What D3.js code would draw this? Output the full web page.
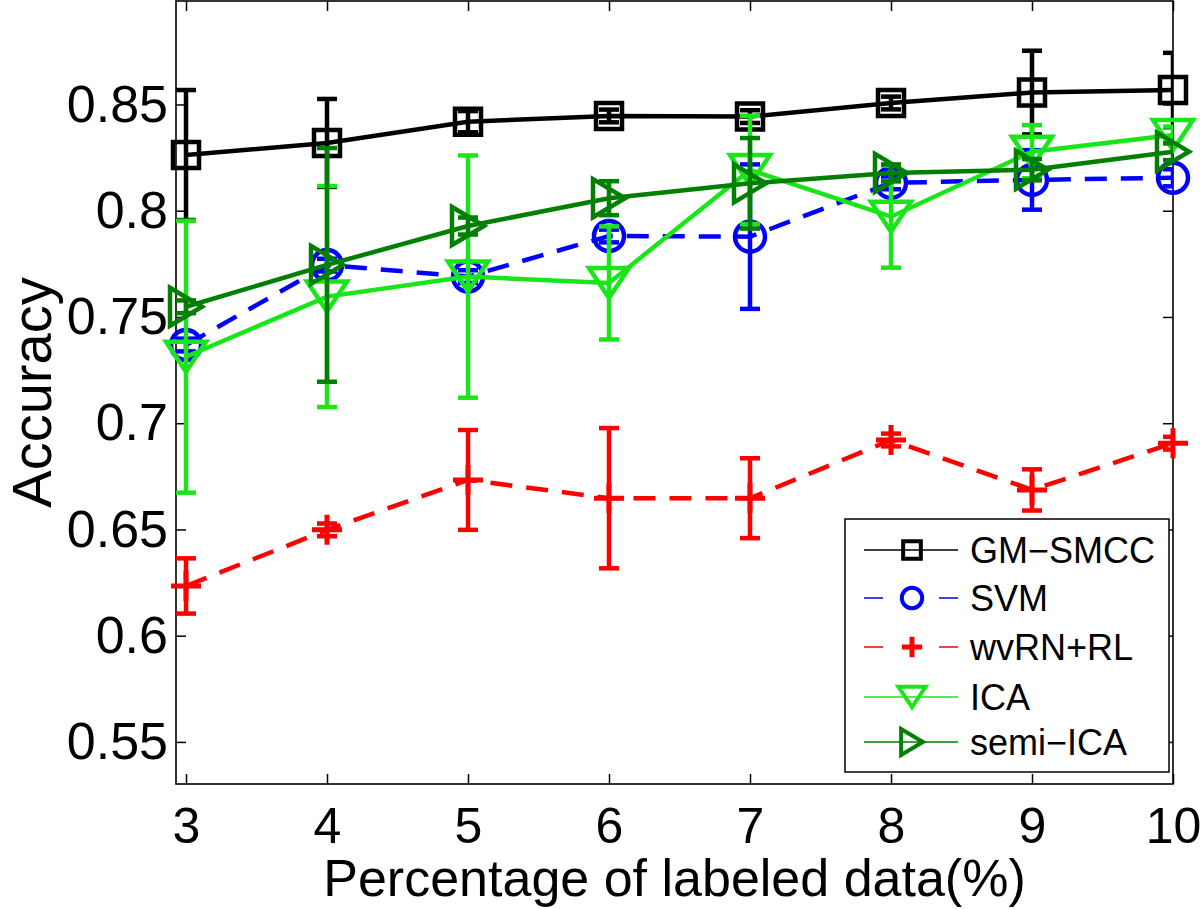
<!DOCTYPE html>
<html>
<head>
<meta charset="utf-8">
<script src="https://cdn.jsdelivr.net/npm/d3@7"></script>
<style>
  html, body { margin: 0; padding: 0; background: #fff; }
  svg { display: block; font-family: "Liberation Sans", Arial, Helvetica, sans-serif; }
</style>
</head>
<body>
<svg id="chart" width="1200" height="909"></svg>
<script>
// ---- data ----
const xValues = [3, 4, 5, 6, 7, 8, 9, 10];
const xTicks = [3, 4, 5, 6, 7, 8, 9, 10];
const yTicks = [0.55, 0.6, 0.65, 0.7, 0.75, 0.8, 0.85];
const seriesNames = ["GM\u2212SMCC", "SVM", "wvRN+RL", "ICA", "semi\u2212ICA"];

const gmMean   = [0.8262, 0.8319, 0.8419, 0.8446, 0.8443, 0.8507, 0.8556, 0.8568];
const gmErr    = [0.0306, 0.0207, 0.0050, 0.0030, 0.0030, 0.0030, 0.0197, 0.0175];
const svmMean  = [0.7368, 0.7744, 0.7690, 0.7881, 0.7878, 0.8131, 0.8145, 0.8155];
const svmErr   = [0.0030, 0.0030, 0.0030, 0.0030, 0.0340, 0.0030, 0.0140, 0.0040];
const wvrnMean = [0.6234, 0.6498, 0.6733, 0.6647, 0.6647, 0.6921, 0.6686, 0.6906];
const wvrnErr  = [0.0130, 0.0030, 0.0235, 0.0330, 0.0188, 0.0030, 0.0097, 0.0030];
const icaMean  = [0.7313, 0.7596, 0.7690, 0.7660, 0.8192, 0.7972, 0.8278, 0.8356];
const icaErr   = [0.0640, 0.0520, 0.0570, 0.0266, 0.0255, 0.0240, 0.0125, 0.0040];
const semiMean = [0.7548, 0.7745, 0.7928, 0.8059, 0.8129, 0.8178, 0.8193, 0.8278];
const semiErr  = [0.0030, 0.0550, 0.0040, 0.0080, 0.0213, 0.0040, 0.0050, 0.0040];

// ---- styles ----
const styles = [
  { color: "#000000", dash: null,    marker: "square" },
  { color: "#0000ff", dash: "22,14", marker: "circle" },
  { color: "#ff0000", dash: "22,14", marker: "plus" },
  { color: "#19e619", dash: null,    marker: "down" },
  { color: "#007f00", dash: null,    marker: "right" }
];
const means = [gmMean, svmMean, wvrnMean, icaMean, semiMean];
const errs  = [gmErr, svmErr, wvrnErr, icaErr, semiErr];

const svg = d3.select("#chart");
const L = 176, R = 1173, T = 1, B = 784;
const x = d3.scaleLinear().domain([2.929, 10]).range([L, R]);
const y = d3.scaleLinear().domain([0.5302, 0.8987]).range([B, T]);

svg.append("defs").append("clipPath").attr("id", "clip")
  .append("rect").attr("x", L).attr("y", T).attr("width", R - L).attr("height", B - T);

// axes
const gx = svg.append("g").attr("transform", `translate(0,${B})`)
  .call(d3.axisBottom(x).tickValues(xTicks).tickSizeInner(-10).tickSizeOuter(0).tickPadding(23).tickFormat(d3.format("d")));
const gxt = svg.append("g").attr("transform", `translate(0,${T})`)
  .call(d3.axisTop(x).tickValues(xTicks).tickSizeInner(-10).tickSizeOuter(0).tickFormat(""));
const gy = svg.append("g").attr("transform", `translate(${L},0)`)
  .call(d3.axisLeft(y).tickValues(yTicks).tickSizeInner(-10).tickSizeOuter(0).tickPadding(8).tickFormat(d => d3.format(".2~f")(d)));
const gyr = svg.append("g").attr("transform", `translate(${R},0)`)
  .call(d3.axisRight(y).tickValues(yTicks).tickSizeInner(-10).tickSizeOuter(0).tickFormat(""));
[gx, gxt, gy, gyr].forEach(g => {
  g.select(".domain").remove();
  g.selectAll(".tick line").attr("stroke", "#000").attr("stroke-width", 1.5);
  g.selectAll(".tick text").attr("fill", "#000")
    .attr("font-family", "Liberation Sans, Arial, Helvetica, sans-serif");
});
gx.selectAll(".tick text").attr("font-size", 50);
gy.selectAll(".tick text").attr("font-size", 52);

svg.append("rect").attr("x", L).attr("y", T).attr("width", R - L).attr("height", B - T)
  .attr("fill", "none").attr("stroke", "#000").attr("stroke-width", 1.6);

// axis labels
svg.append("text").attr("x", (L + R) / 2).attr("y", 896).attr("text-anchor", "middle")
  .attr("font-size", 52).attr("fill", "#000").text("Percentage of labeled data(%)");
svg.append("text").attr("transform", `translate(51,${(T + B) / 2}) rotate(-90)`)
  .attr("text-anchor", "middle").attr("font-size", 56).attr("fill", "#000").text("Accuracy");

// markers
function markerPath(type, s) {
  const p = d3.path();
  if (type === "square") {
    const h = 13 * s; p.rect(-h, -h, 2 * h, 2 * h);
  } else if (type === "circle") {
    const r = 15 * s; p.moveTo(r, 0); p.arc(0, 0, r, 0, 2 * Math.PI);
  } else if (type === "plus") {
    const h = 15 * s; p.moveTo(-h, 0); p.lineTo(h, 0); p.moveTo(0, -h); p.lineTo(0, h);
  } else if (type === "down") {
    const w = 20 * s, hh = 15 * s; p.moveTo(-w, -hh); p.lineTo(w, -hh); p.lineTo(0, hh); p.closePath();
  } else if (type === "right") {
    const w = 16 * s, hh = 19 * s; p.moveTo(-w, -hh); p.lineTo(w, 0); p.lineTo(-w, hh); p.closePath();
  }
  return p.toString();
}

const line = d3.line().x((d, i) => x(xValues[i])).y(d => y(d));
const capW = 10;

means.forEach((m, k) => {
  const st = styles[k];
  const g = svg.append("g");
  g.append("path").attr("d", line(m)).attr("fill", "none").attr("stroke", st.color)
    .attr("stroke-width", 4.5).attr("stroke-dasharray", st.dash);
  const eb = g.append("g").attr("clip-path", "url(#clip)").attr("stroke", st.color).attr("stroke-width", 4.5);
  m.forEach((v, i) => {
    const cx = x(xValues[i]), e = errs[k][i];
    const y1 = y(v - e), y2 = y(v + e);
    eb.append("line").attr("x1", cx).attr("x2", cx).attr("y1", y1).attr("y2", y2);
    eb.append("line").attr("x1", cx - capW).attr("x2", cx + capW).attr("y1", y1).attr("y2", y1);
    eb.append("line").attr("x1", cx - capW).attr("x2", cx + capW).attr("y1", y2).attr("y2", y2);
  });
  m.forEach((v, i) => {
    g.append("path").attr("d", markerPath(st.marker, 1))
      .attr("transform", `translate(${x(xValues[i])},${y(v)})`)
      .attr("fill", "none").attr("stroke", st.color)
      .attr("stroke-width", st.marker === "plus" ? 5 : 4.5);
  });
});

// legend
const lg = svg.append("g");
lg.append("rect").attr("x", 845).attr("y", 519).attr("width", 324).attr("height", 253)
  .attr("fill", "#fff").attr("stroke", "#000").attr("stroke-width", 1.5);
const legY = [550, 598, 647, 697, 742];
seriesNames.forEach((name, k) => {
  const st = styles[k], yy = legY[k];
  lg.append("line").attr("x1", 864).attr("x2", 958).attr("y1", yy).attr("y2", yy)
    .attr("stroke", st.color).attr("stroke-width", 1.5)
    .attr("stroke-dasharray", st.dash ? "19,56" : null);
  lg.append("path").attr("d", markerPath(st.marker, 0.68))
    .attr("transform", `translate(912,${yy})`).attr("fill", "none").attr("stroke", st.color)
    .attr("stroke-width", st.marker === "plus" ? 5 : 4);
  lg.append("text").attr("x", 970).attr("y", yy).attr("dy", "0.35em")
    .attr("font-size", 36).attr("fill", "#000").text(name);
});
</script>
</body>
</html>
